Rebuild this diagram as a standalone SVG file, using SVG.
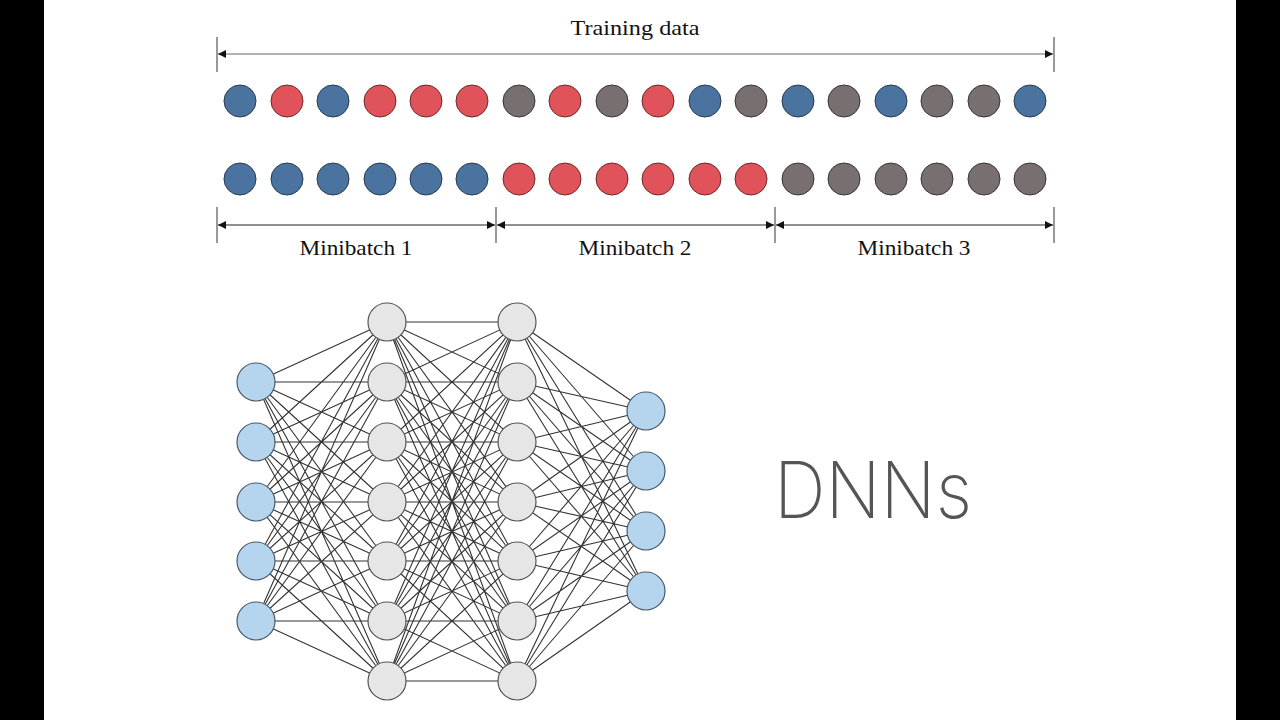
<svg xmlns="http://www.w3.org/2000/svg" width="1280" height="720" viewBox="0 0 1280 720">
<defs>
<marker id="ah" viewBox="0 0 10 10" refX="10" refY="5" markerWidth="10" markerHeight="8" markerUnits="userSpaceOnUse" orient="auto-start-reverse"><path d="M0 0L10 5L0 10z" fill="#111"/></marker>
<style>
.b{fill:#4a73a0;stroke:#2a3a50;stroke-width:1}
.r{fill:#e0535b;stroke:#6a2a2a;stroke-width:1}
.g{fill:#787070;stroke:#3a3535;stroke-width:1}
.in{fill:#b5d5ee;stroke:#4a5a6a;stroke-width:1.2}
.hd{fill:#e6e6e6;stroke:#555;stroke-width:1.2}
.lbl{font-family:"Liberation Serif","DejaVu Serif",serif;font-size:21px;fill:#111;text-anchor:middle}
.dim{stroke:#222;stroke-width:1.2;fill:none}
.tick{stroke:#777;stroke-width:1.5}
.cn{stroke:#333;stroke-width:1.1;fill:none}
</style>
</defs>
<rect x="0" y="0" width="1280" height="720" fill="#fff"/>
<rect x="0" y="0" width="44" height="720" fill="#000"/>
<rect x="1236" y="0" width="44" height="720" fill="#000"/>

<g id="training-data">
<line class="tick" x1="217" y1="37" x2="217" y2="72"/>
<line class="tick" x1="1054" y1="37" x2="1054" y2="72"/>
<line x1="218" y1="54" x2="1053" y2="54" stroke="#666" stroke-width="1.2" marker-start="url(#ah)" marker-end="url(#ah)"/>
<text class="lbl" x="635" y="35" textLength="129" lengthAdjust="spacingAndGlyphs">Training data</text>
</g>

<g id="row1">
<circle class="b" cx="240" cy="101" r="16"/>
<circle class="r" cx="287" cy="101" r="16"/>
<circle class="b" cx="333" cy="101" r="16"/>
<circle class="r" cx="380" cy="101" r="16"/>
<circle class="r" cx="426" cy="101" r="16"/>
<circle class="r" cx="472" cy="101" r="16"/>
<circle class="g" cx="519" cy="101" r="16"/>
<circle class="r" cx="565" cy="101" r="16"/>
<circle class="g" cx="612" cy="101" r="16"/>
<circle class="r" cx="658" cy="101" r="16"/>
<circle class="b" cx="705" cy="101" r="16"/>
<circle class="g" cx="751" cy="101" r="16"/>
<circle class="b" cx="798" cy="101" r="16"/>
<circle class="g" cx="844" cy="101" r="16"/>
<circle class="b" cx="891" cy="101" r="16"/>
<circle class="g" cx="937" cy="101" r="16"/>
<circle class="g" cx="984" cy="101" r="16"/>
<circle class="b" cx="1030" cy="101" r="16"/>
</g>

<g id="row2">
<circle class="b" cx="240" cy="179" r="16"/>
<circle class="b" cx="287" cy="179" r="16"/>
<circle class="b" cx="333" cy="179" r="16"/>
<circle class="b" cx="380" cy="179" r="16"/>
<circle class="b" cx="426" cy="179" r="16"/>
<circle class="b" cx="472" cy="179" r="16"/>
<circle class="r" cx="519" cy="179" r="16"/>
<circle class="r" cx="565" cy="179" r="16"/>
<circle class="r" cx="612" cy="179" r="16"/>
<circle class="r" cx="658" cy="179" r="16"/>
<circle class="r" cx="705" cy="179" r="16"/>
<circle class="r" cx="751" cy="179" r="16"/>
<circle class="g" cx="798" cy="179" r="16"/>
<circle class="g" cx="844" cy="179" r="16"/>
<circle class="g" cx="891" cy="179" r="16"/>
<circle class="g" cx="937" cy="179" r="16"/>
<circle class="g" cx="984" cy="179" r="16"/>
<circle class="g" cx="1030" cy="179" r="16"/>
</g>

<g id="minibatches">
<line class="tick" x1="217" y1="207" x2="217" y2="243"/>
<line class="tick" x1="496" y1="207" x2="496" y2="243"/>
<line class="tick" x1="775" y1="207" x2="775" y2="243"/>
<line class="tick" x1="1054" y1="207" x2="1054" y2="243"/>
<line class="dim" x1="218" y1="225" x2="495" y2="225" marker-start="url(#ah)" marker-end="url(#ah)"/>
<line class="dim" x1="497" y1="225" x2="774" y2="225" marker-start="url(#ah)" marker-end="url(#ah)"/>
<line class="dim" x1="776" y1="225" x2="1053" y2="225" marker-start="url(#ah)" marker-end="url(#ah)"/>
<text class="lbl" x="356" y="255" textLength="113" lengthAdjust="spacingAndGlyphs">Minibatch 1</text>
<text class="lbl" x="635" y="255" textLength="113" lengthAdjust="spacingAndGlyphs">Minibatch 2</text>
<text class="lbl" x="914" y="255" textLength="113" lengthAdjust="spacingAndGlyphs">Minibatch 3</text>
</g>

<g id="connectors">
<path class="cn" d="M256 382L387 322M256 382L387 382M256 382L387 442M256 382L387 502M256 382L387 561M256 382L387 621M256 382L387 681
M256 442L387 322M256 442L387 382M256 442L387 442M256 442L387 502M256 442L387 561M256 442L387 621M256 442L387 681
M256 502L387 322M256 502L387 382M256 502L387 442M256 502L387 502M256 502L387 561M256 502L387 621M256 502L387 681
M256 561L387 322M256 561L387 382M256 561L387 442M256 561L387 502M256 561L387 561M256 561L387 621M256 561L387 681
M256 621L387 322M256 621L387 382M256 621L387 442M256 621L387 502M256 621L387 561M256 621L387 621M256 621L387 681"/>
<path class="cn" d="M387 322L517 322M387 322L517 382M387 322L517 442M387 322L517 502M387 322L517 561M387 322L517 621M387 322L517 681
M387 382L517 322M387 382L517 382M387 382L517 442M387 382L517 502M387 382L517 561M387 382L517 621M387 382L517 681
M387 442L517 322M387 442L517 382M387 442L517 442M387 442L517 502M387 442L517 561M387 442L517 621M387 442L517 681
M387 502L517 322M387 502L517 382M387 502L517 442M387 502L517 502M387 502L517 561M387 502L517 621M387 502L517 681
M387 561L517 322M387 561L517 382M387 561L517 442M387 561L517 502M387 561L517 561M387 561L517 621M387 561L517 681
M387 621L517 322M387 621L517 382M387 621L517 442M387 621L517 502M387 621L517 561M387 621L517 621M387 621L517 681
M387 681L517 322M387 681L517 382M387 681L517 442M387 681L517 502M387 681L517 561M387 681L517 621M387 681L517 681"/>
<path class="cn" d="M517 322L646 411M517 322L646 471M517 322L646 531M517 322L646 591
M517 382L646 411M517 382L646 471M517 382L646 531M517 382L646 591
M517 442L646 411M517 442L646 471M517 442L646 531M517 442L646 591
M517 502L646 411M517 502L646 471M517 502L646 531M517 502L646 591
M517 561L646 411M517 561L646 471M517 561L646 531M517 561L646 591
M517 621L646 411M517 621L646 471M517 621L646 531M517 621L646 591
M517 681L646 411M517 681L646 471M517 681L646 531M517 681L646 591"/>
</g>

<g id="input-layer">
<circle class="in" cx="256" cy="382" r="19"/>
<circle class="in" cx="256" cy="442" r="19"/>
<circle class="in" cx="256" cy="502" r="19"/>
<circle class="in" cx="256" cy="561" r="19"/>
<circle class="in" cx="256" cy="621" r="19"/>
</g>
<g id="hidden-layer-1">
<circle class="hd" cx="387" cy="322" r="19"/>
<circle class="hd" cx="387" cy="382" r="19"/>
<circle class="hd" cx="387" cy="442" r="19"/>
<circle class="hd" cx="387" cy="502" r="19"/>
<circle class="hd" cx="387" cy="561" r="19"/>
<circle class="hd" cx="387" cy="621" r="19"/>
<circle class="hd" cx="387" cy="681" r="19"/>
</g>
<g id="hidden-layer-2">
<circle class="hd" cx="517" cy="322" r="19"/>
<circle class="hd" cx="517" cy="382" r="19"/>
<circle class="hd" cx="517" cy="442" r="19"/>
<circle class="hd" cx="517" cy="502" r="19"/>
<circle class="hd" cx="517" cy="561" r="19"/>
<circle class="hd" cx="517" cy="621" r="19"/>
<circle class="hd" cx="517" cy="681" r="19"/>
</g>
<g id="output-layer">
<circle class="in" cx="646" cy="411" r="19"/>
<circle class="in" cx="646" cy="471" r="19"/>
<circle class="in" cx="646" cy="531" r="19"/>
<circle class="in" cx="646" cy="591" r="19"/>
</g>

<g id="title">
<text x="774" y="518" font-family="Inter, Lato, 'Open Sans', sans-serif" font-weight="200" font-size="78" fill="#555" textLength="198" lengthAdjust="spacingAndGlyphs">DNNs</text>
</g>
</svg>
